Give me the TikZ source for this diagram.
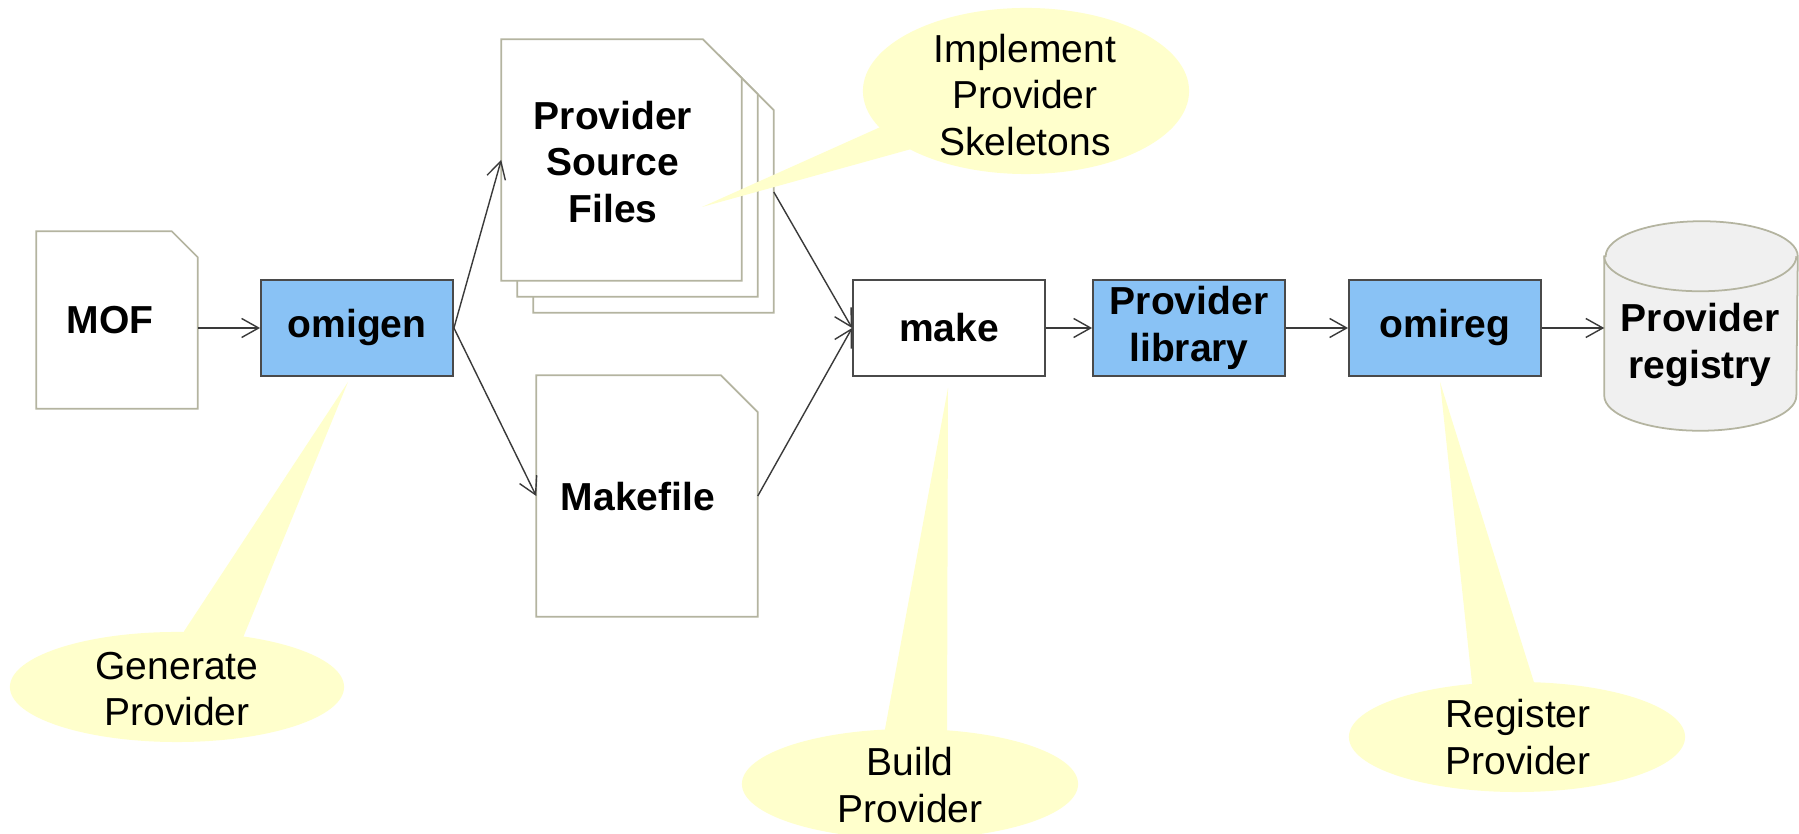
\documentclass[tikz,border=0pt]{standalone}
\usepackage{fontspec}
\setmainfont{Liberation Sans}
\usetikzlibrary{arrows.meta,backgrounds}

\definecolor{boxblue}{HTML}{89C2F5}
\definecolor{notefill}{HTML}{FFFFCC}
\definecolor{docedge}{HTML}{B4B4A0}
\definecolor{boxedge}{HTML}{4A4A4A}
\definecolor{dbfill}{HTML}{F0F0F0}
\definecolor{wirecol}{HTML}{3A3A3A}

% outline of a page with a cut top-right corner, drawn round a named node
\newcommand\docoutline[2]{%
  \filldraw[docline] (#1.north west) -- ([xshift=-#2]#1.north east)
    -- ([yshift=-#2]#1.north east) -- (#1.south east) -- (#1.south west) -- cycle;}

\begin{document}
\begin{tikzpicture}[x=0.01cm, y=-0.01cm,
  every node/.style={align=center, inner sep=0pt,
    font=\fontsize{11.1pt}{13.3pt}\selectfont},
  boldtext/.style={font=\fontsize{11.1pt}{13.3pt}\selectfont\bfseries},
  tool/.style={boldtext, draw=boxedge, line width=0.5pt,
    minimum width=1.92cm, minimum height=0.96cm},
  bluetool/.style={tool, fill=boxblue},
  docline/.style={draw=docedge, fill=white, line width=0.5pt},
  dbline/.style={draw=docedge, fill=dbfill, line width=0.5pt},
  wire/.style={draw=wirecol, line width=0.4pt,
    -{Straight Barb[length=0.17cm, width=0.19cm, line width=0.4pt]}},
  note/.style={fill=notefill, draw=none},
  notetext/.style={font=\fontsize{11.1pt}{13.3pt}\selectfont}]

\useasboundingbox (0,0) rectangle (1799,834);

% documents
\node[minimum width=1.60cm, minimum height=1.76cm] (mof) at (117,320) {};
\node[boldtext] (moftext) at (110,320) {MOF};
\node[minimum width=2.39cm, minimum height=2.40cm] (src3) at (653.5,192) {};
\node[minimum width=2.39cm, minimum height=2.40cm] (src2) at (637.5,176) {};
\node[minimum width=2.39cm, minimum height=2.40cm] (src) at (621.5,160) {};
\node[boldtext] (srctext) at (613,162) {Provider\\Source\\Files};
\node[minimum width=2.20cm, minimum height=2.40cm] (mk) at (647,496) {};
\node[boldtext] (mktext) at (638,497) {Makefile};

% tools and artefacts
\node[bluetool] (omigen) at (357,328) {omigen};
\node[tool, fill=white] (make) at (949,328) {make};
\node[bluetool] (lib) at (1189,328) {Provider\\library};
\node[bluetool] (omireg) at (1445,328) {omireg};
\node[minimum width=1.92cm, minimum height=2.08cm] (reg) at (1701,326) {};
\node[boldtext] (regtext) at (1700,345) {Provider\\registry};

\begin{scope}[on background layer]
  \fill[white] (0,0) rectangle (1799,834);
  \docoutline{mof}{0.26cm}
  \docoutline{src3}{0.39cm}
  \docoutline{src2}{0.39cm}
  \docoutline{src}{0.39cm}
  \docoutline{mk}{0.37cm}
  % database cylinder
  \filldraw[dbline] ([yshift=-0.35cm]reg.north west) -- ([yshift=0.35cm]reg.south west)
    arc[start angle=180, end angle=360, x radius=0.96cm, y radius=0.35cm]
    -- ([yshift=-0.35cm]reg.north east)
    arc[start angle=0, end angle=180, x radius=0.96cm, y radius=0.35cm] -- cycle;
  \draw[dbline, fill=none] ([yshift=-0.35cm]reg.north west)
    arc[start angle=180, end angle=360, x radius=0.96cm, y radius=0.35cm];
\end{scope}

% flow
\draw[wire] (mof.east |- omigen.west) -- (omigen.west);
\draw[wire] (omigen.east) -- (src.west);
\draw[wire] (omigen.east) -- (mk.west);
\draw[wire] (src3.east) -- (make.west);
\draw[wire] (mk.east) -- (make.west);
\draw[wire] (make.east) -- (lib.west);
\draw[wire] (lib.east) -- (omireg.west);
\draw[wire] (omireg.east) -- (reg.west |- omireg.east);

% callouts
\coordinate (genc) at (177,687);
\coordinate (impc) at (1026,91);
\coordinate (bldc) at (910,784);
\coordinate (regc) at (1517,737);

\coordinate (gentip) at (348,382);
\coordinate (imptip) at (702,207);
\coordinate (bldtip) at (948,388);
\coordinate (regtip) at (1440,382);

\fill[note] (gentip) -- (175,645) -- (240,645) -- cycle;
\fill[note] (genc) ellipse[x radius=1.67cm, y radius=0.55cm];
\node[notetext] (gen) at (177,689) {Generate\\Provider};

\fill[note] (imptip) -- (885,125) -- (915,148) -- cycle;
\fill[note] (impc) ellipse[x radius=1.63cm, y radius=0.83cm];
\node[notetext] (imp) at (1025,95) {Implement\\Provider\\Skeletons};

\fill[note] (bldtip) -- (883,740) -- (947,740) -- cycle;
\fill[note] (bldc) ellipse[x radius=1.68cm, y radius=0.55cm];
\node[notetext] (bld) at (910,785) {Build\\Provider};

\fill[note] (regtip) -- (1473,692) -- (1537,692) -- cycle;
\fill[note] (regc) ellipse[x radius=1.68cm, y radius=0.55cm];
\node[notetext] (regnote) at (1518,737) {Register\\Provider};

\end{tikzpicture}
\end{document}
